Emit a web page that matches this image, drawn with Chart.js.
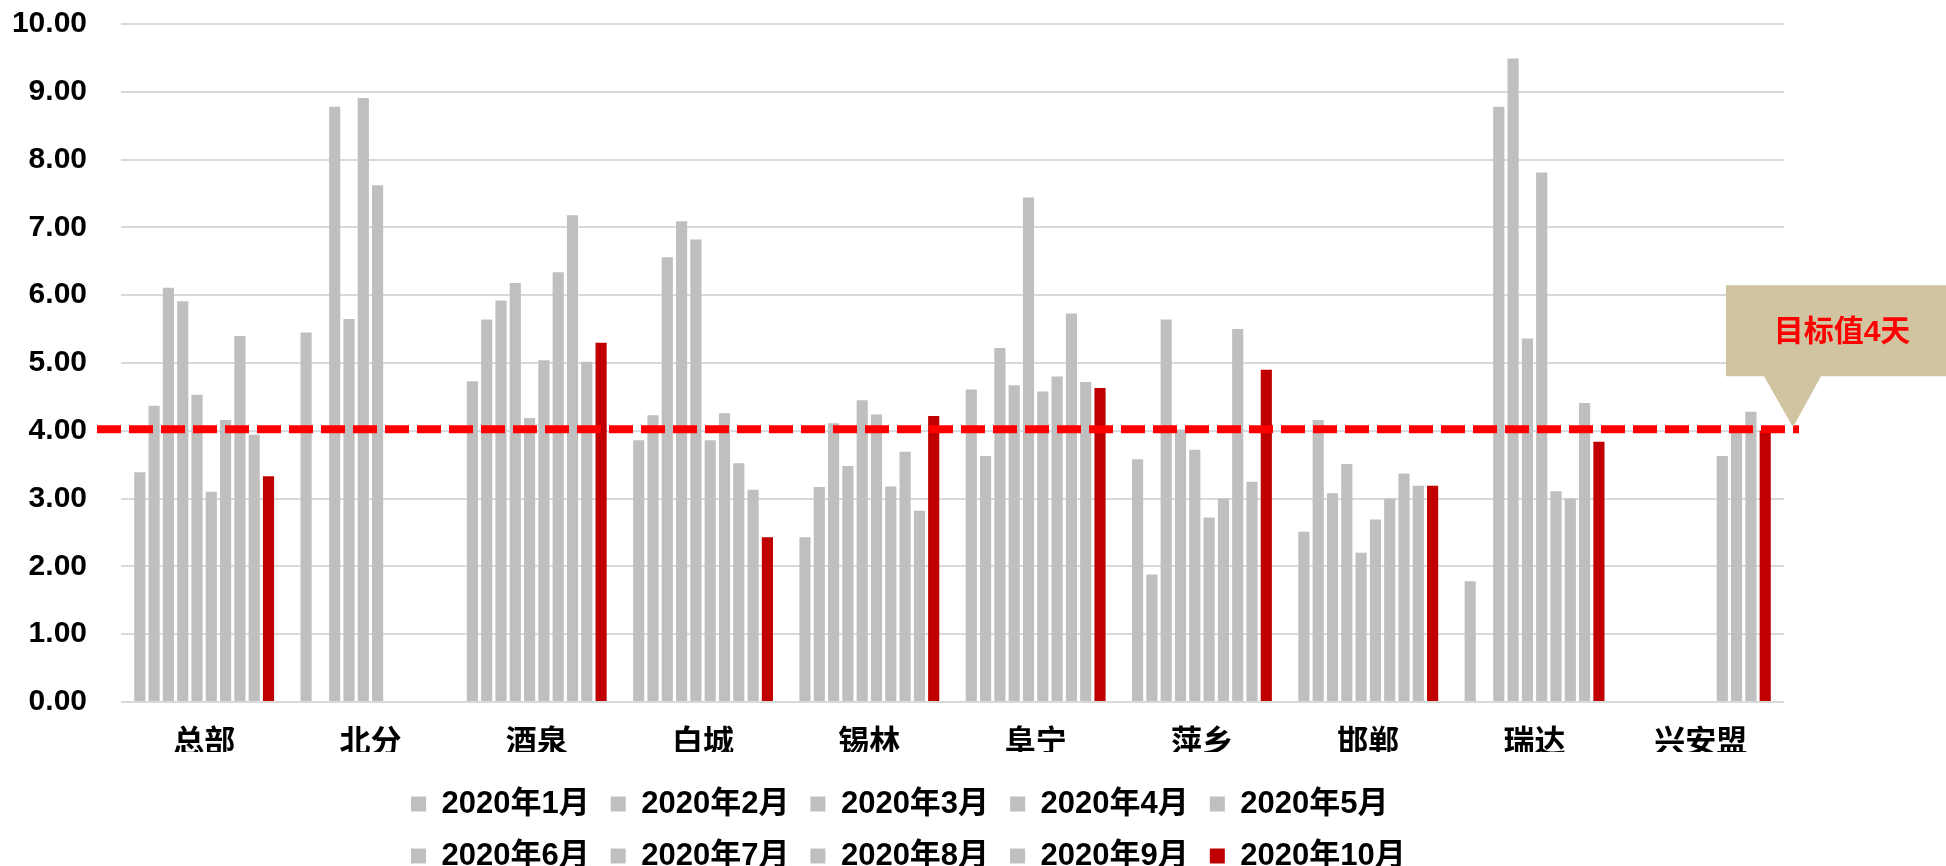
<!DOCTYPE html>
<html>
<head>
<meta charset="utf-8">
<script src="https://cdn.jsdelivr.net/npm/chart.js@4/dist/chart.umd.min.js"></script>
<style>
  html, body { margin: 0; padding: 0; background: #ffffff; }
  #wrap { width: 1946px; height: 866px; }
</style>
</head>
<body>
<div id="wrap"><canvas id="c" width="1946" height="866"></canvas></div>
<script>
// ---------- data ----------
const CATEGORIES = ['总部', '北分', '酒泉', '白城', '锡林', '阜宁', '萍乡', '邯郸', '瑞达', '兴安盟'];
const MONTHS = ['2020年1月', '2020年2月', '2020年3月', '2020年4月', '2020年5月',
                '2020年6月', '2020年7月', '2020年8月', '2020年9月', '2020年10月'];

const JAN = [3.39, 5.45, 4.73, 3.86, 2.43, 4.61, 3.58, 2.51, 1.78, null];
const FEB = [4.37, null, 5.64, 4.23, 3.17, 3.63, 1.88, 4.16, null, null];
const MAR = [6.11, 8.78, 5.92, 6.56, 4.11, 5.22, 5.64, 3.08, 8.78, null];
const APR = [5.91, 5.65, 6.18, 7.09, 3.48, 4.67, 4.02, 3.51, 9.49, null];
const MAY = [4.53, 8.91, 4.19, 6.82, 4.45, 7.44, 3.72, 2.20, 5.36, null];
const JUN = [3.10, 7.62, 5.04, 3.86, 4.24, 4.58, 2.72, 2.69, 7.81, null];
const JUL = [4.16, null, 6.34, 4.26, 3.18, 4.80, 3.00, 3.00, 3.11, 3.63];
const AUG = [5.40, null, 7.18, 3.52, 3.69, 5.73, 5.50, 3.37, 3.00, 4.02];
const SEP = [3.94, null, 5.02, 3.13, 2.82, 4.72, 3.25, 3.19, 4.41, 4.28];
const OCT = [3.33, null, 5.30, 2.43, 4.22, 4.63, 4.90, 3.19, 3.84, 4.00];

const SERIES = [JAN, FEB, MAR, APR, MAY, JUN, JUL, AUG, SEP, OCT];

const Y_MIN = 0;
const Y_MAX = 10;
const Y_STEP = 1;

const TARGET = 4;
const TARGET_LABEL = '目标值4天';

// ---------- style ----------
const GREY = '#BFBFBF';
const RED = '#C00000';
const FONT_FAMILY = "'Liberation Sans', 'Noto Sans CJK SC', Arial, sans-serif";
const TEXT_WEIGHT = 'bold';

const datasets = SERIES.map((vals, i) => ({
  label: MONTHS[i],
  data: vals,
  backgroundColor: i === SERIES.length - 1 ? RED : GREY,
  borderWidth: 0,
  categoryPercentage: 0.86,
  barPercentage: 0.78
}));

// Legend: 5 items per row, left-aligned columns like the original
const legendLayout = {
  id: 'legendLayout',
  beforeUpdate(chart) {
    const lg = chart.legend;
    if (lg && !lg.__wrapped) {
      const orig = lg.update.bind(lg);
      lg.update = function (maxW, maxH, margins) {
        return orig(Math.min(maxW, 1060), maxH, margins);
      };
      lg.__wrapped = true;
    }
  },
  afterLayout(chart) {
    const lg = chart.legend;
    if (!lg) return;
    const pad = lg.options.labels.padding;
    const fs = lg.options.labels.font.size;
    const left = 411 - pad;
    lg.left = left;
    lg.right = left + pad + Math.max(...lg.lineWidths) + 1;
    lg.width = lg.right - lg.left;
    const top = 804 - pad - fs / 2;
    lg.top = top;
    lg.bottom = top + lg.height;
  }
};

// Target dashed line + callout
const targetLine = {
  id: 'targetLine',
  afterDatasetsDraw(chart) {
    const {ctx, chartArea, scales} = chart;
    const y = scales.y.getPixelForValue(TARGET) - 1.5;
    const x0 = chartArea.left - 24;
    const x1 = chartArea.right + 15;
    ctx.save();
    ctx.strokeStyle = '#FF0000';
    ctx.lineWidth = 8;
    ctx.setLineDash([24, 8]);
    ctx.lineCap = 'butt';
    ctx.beginPath();
    ctx.moveTo(x0, y);
    ctx.lineTo(x1, y);
    ctx.stroke();
    ctx.setLineDash([]);

    // callout
    const tipX = chartArea.right + 9;
    const tipY = y - 2;
    const boxL = tipX - 67;
    const boxR = chart.width;
    const boxT = tipY - 142;
    const boxB = tipY - 51;
    ctx.fillStyle = '#D0C4A1';
    ctx.beginPath();
    ctx.moveTo(boxL, boxT);
    ctx.lineTo(boxR, boxT);
    ctx.lineTo(boxR, boxB);
    ctx.lineTo(tipX + 28, boxB);
    ctx.lineTo(tipX, tipY);
    ctx.lineTo(tipX - 29, boxB);
    ctx.lineTo(boxL, boxB);
    ctx.closePath();
    ctx.fill();

    ctx.fillStyle = '#FF0000';
    ctx.font = "bold 30px " + FONT_FAMILY;
    ctx.textAlign = 'center';
    ctx.textBaseline = 'middle';
    ctx.fillText(TARGET_LABEL, tipX + 49, boxT + 47);
    ctx.restore();
  }
};

new Chart(document.getElementById('c'), {
  type: 'bar',
  data: { labels: CATEGORIES, datasets },
  options: {
    responsive: false,
    animation: false,
    devicePixelRatio: 1,
    layout: { padding: { top: 24, left: 0, right: 162, bottom: 0 } },
    plugins: {
      tooltip: { enabled: false },
      legend: {
        position: 'bottom',
        align: 'start',
        labels: {
          boxWidth: 15,
          boxHeight: 15,
          padding: 21,
          color: '#000000',
          font: { family: FONT_FAMILY, size: 31, weight: TEXT_WEIGHT }
        }
      }
    },
    scales: {
      x: {
        grid: { display: false, drawTicks: false },
        border: { display: false },
        ticks: {
          color: '#000000',
          padding: 26,
          font: { family: FONT_FAMILY, size: 31, weight: TEXT_WEIGHT, lineHeight: 1 }
        },
        afterFit(s) { s.height = 50; }
      },
      y: {
        min: Y_MIN,
        max: Y_MAX,
        grid: { color: '#D9D9D9', lineWidth: 2, drawTicks: false },
        border: { display: false },
        ticks: {
          stepSize: Y_STEP,
          color: '#000000',
          padding: 34,
          font: { family: FONT_FAMILY, size: 30, weight: TEXT_WEIGHT },
          callback: (v) => Number(v).toFixed(2)
        },
        afterFit(s) {
          s.width = 121;
          s.paddingTop = 0;
          s.paddingBottom = 0;
        }
      }
    }
  },
  plugins: [legendLayout, targetLine]
});
</script>
</body>
</html>
